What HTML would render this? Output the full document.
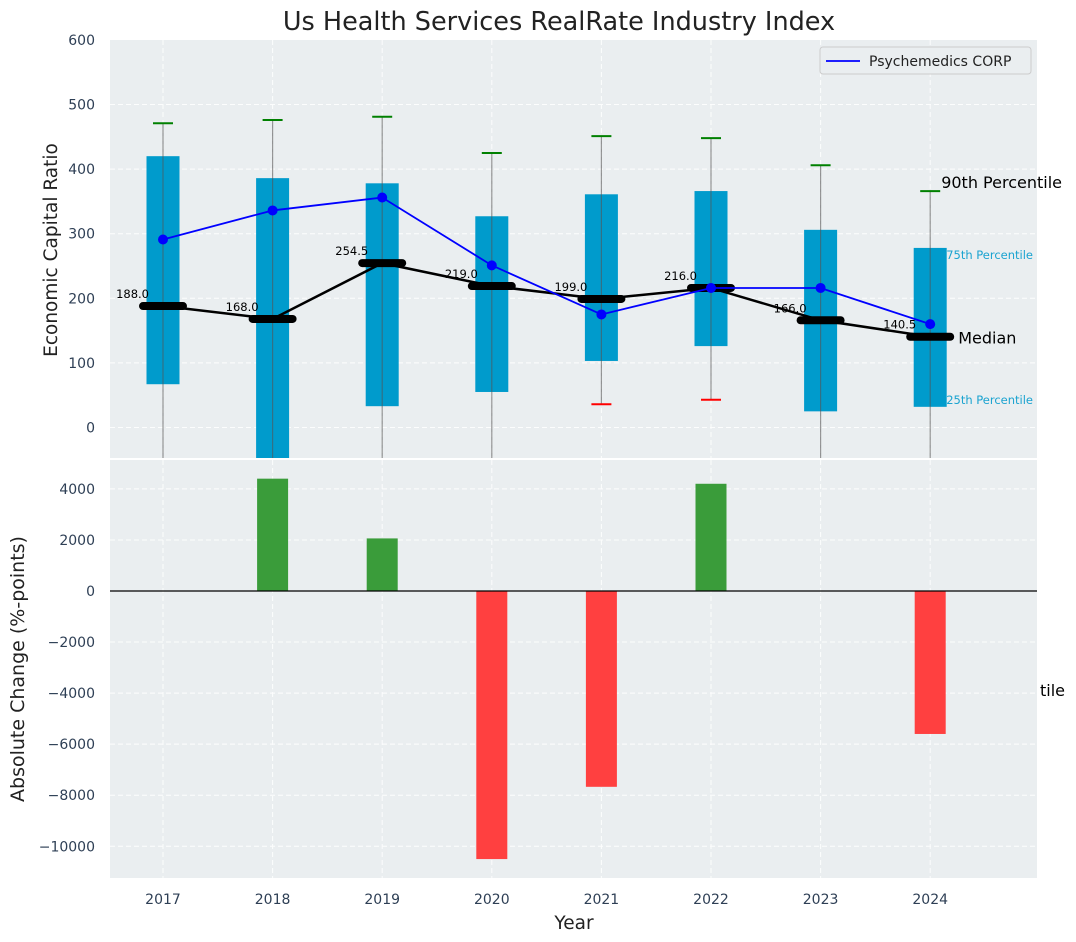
<!DOCTYPE html>
<html><head><meta charset="utf-8"><style>
body{margin:0;background:#fff;}
svg{display:block;font-family:"DejaVu Sans","Liberation Sans",sans-serif;}
</style></head><body>
<svg id="chart" width="1076" height="942"></svg>
<script>
const years=[2017,2018,2019,2020,2021,2022,2023,2024];
const p90=[471,476,481,425,451,448,406,366];
const p75=[420,386,378,327,361,366,306,278];
const medians=[188,168,254.5,219,199,216,166,140.5];
const p25=[67,-60,33,55,103,126,25,32];
const p10=[-120,-120,-120,-120,36,43,-120,-120];
const company=[291,336,356,251,175,216,216,160];
const changes=[0,4400,2060,-10500,-7670,4200,0,-5600];
const topTicks=[0,100,200,300,400,500,600];
const botTicks=[-10000,-8000,-6000,-4000,-2000,0,2000,4000];

const NS="http://www.w3.org/2000/svg";
const svg=document.getElementById('chart');
function el(tag,attrs,parent){const e=document.createElementNS(NS,tag);for(const k in attrs)e.setAttribute(k,attrs[k]);(parent||svg).appendChild(e);return e;}
const L=110,R=1037;
const xs=v=>163+(v-2017)*109.6;
const yT=v=>427.5-v*0.646;
const yB=v=>591-v*0.02553;
const TT=40,TB=458,BT=460,BB=878;

let bg=el('rect',{x:L,y:TT,width:R-L,height:TB-TT,fill:'#eaeef0'});

let bg2=el('rect',{x:L,y:BT,width:R-L,height:BB-BT,fill:'#eaeef0'});


const grid=el('g',{stroke:'#fff','stroke-dasharray':'5,3','stroke-width':1,opacity:0.9});

topTicks.forEach(t=>{if(yT(t)>TT+1)el('line',{x1:L,x2:R,y1:yT(t),y2:yT(t)},grid);});
botTicks.forEach(t=>el('line',{x1:L,x2:R,y1:yB(t),y2:yB(t)},grid));
years.forEach(yr=>{el('line',{x1:xs(yr),x2:xs(yr),y1:TT,y2:TB},grid);el('line',{x1:xs(yr),x2:xs(yr),y1:BT,y2:BB},grid);});

const tl=el('g',{fill:'#2e3f55','font-size':14});

topTicks.forEach(t=>{const e=el('text',{x:95,y:yT(t)+5,'text-anchor':'end'},tl);e.textContent=t;});
botTicks.forEach(t=>{const e=el('text',{x:95,y:yB(t)+5,'text-anchor':'end'},tl);e.textContent=t<0?'\u2212'+(-t):t;});
years.forEach(yr=>{const e=el('text',{x:xs(yr),y:904,'text-anchor':'middle'},tl);e.textContent=yr;});

const defs=el('defs',{});
const cp=el('clipPath',{id:'ct'},defs);el('rect',{x:L,y:TT,width:R-L,height:TB-TT},cp);
const cb=el('clipPath',{id:'cb'},defs);el('rect',{x:L,y:BT,width:R-L,height:BB-BT},cb);
const topPanel=el('g',{'clip-path':'url(#ct)'});


years.forEach((yr,i)=>{
  const b=el('rect',{x:xs(yr)-16.5,y:yT(p75[i]),width:33,height:yT(p25[i])-yT(p75[i]),fill:'#009bcc'},topPanel);
  
  const w=el('line',{x1:xs(yr),x2:xs(yr),y1:yT(p90[i]),y2:yT(p10[i]),stroke:'#555',opacity:0.6,'stroke-width':1.2},topPanel);
  
  const c=el('line',{x1:xs(yr)-10,x2:xs(yr)+10,y1:yT(p90[i]),y2:yT(p90[i]),stroke:'green','stroke-width':2},topPanel);
  
  if(p10[i]>-47){const c2=el('line',{x1:xs(yr)-10,x2:xs(yr)+10,y1:yT(p10[i]),y2:yT(p10[i]),stroke:'red','stroke-width':2},topPanel);
  }
});
const mline=el('polyline',{points:years.map((yr,i)=>xs(yr)+','+yT(medians[i])).join(' '),fill:'none',stroke:'#000','stroke-width':2.5},topPanel);

years.forEach((yr,i)=>{
  const m=el('line',{x1:xs(yr)-20,x2:xs(yr)+20,y1:yT(medians[i]),y2:yT(medians[i]),stroke:'#000','stroke-width':8,'stroke-linecap':'round'},topPanel);
  
  const tx=el('text',{x:xs(yr)-14,y:yT(medians[i])-8,'text-anchor':'end','font-size':11.5,fill:'#000'},topPanel);
  
  tx.textContent=medians[i].toFixed(1);
});
const cl=el('polyline',{points:years.map((yr,i)=>xs(yr)+','+yT(company[i])).join(' '),fill:'none',stroke:'#0000ff','stroke-width':1.8},topPanel);

years.forEach((yr,i)=>{const d=el('circle',{cx:xs(yr),cy:yT(company[i]),r:5,fill:'#0000ff'},topPanel);
});

const li=years.length-1,lx=xs(years[li]);
let a=el('text',{x:lx+11,y:yT(p90[li])-3,'font-size':16,fill:'#000'});a.textContent='90th Percentile';

a=el('text',{x:lx+16,y:yT(p75[li])+11,'font-size':11.5,fill:'#1aa3d0'});a.textContent='75th Percentile';

a=el('text',{x:lx+16,y:yT(p25[li])-3,'font-size':11.5,fill:'#1aa3d0'});a.textContent='25th Percentile';

a=el('text',{x:lx+28,y:yT(medians[li])+7,'font-size':16,fill:'#000'});a.textContent='Median';

a=el('text',{x:1040,y:696,'font-size':16,fill:'#000'});a.textContent='tile';


const lg=el('g',{});
el('rect',{x:820,y:47,width:211,height:27,rx:3,fill:'#eaeef0',stroke:'#ccc'},lg);
el('line',{x1:826,x2:860,y1:61,y2:61,stroke:'#0000ff','stroke-width':1.8},lg);
let lt=el('text',{x:869,y:66,'font-size':14,fill:'#222'},lg);lt.textContent='Psychemedics CORP';

const bot=el('g',{'clip-path':'url(#cb)'});

years.forEach((yr,i)=>{const v=changes[i];const y0=yB(0),y1=yB(v);
  const r=el('rect',{x:xs(yr)-15.5,y:Math.min(y0,y1),width:31,height:Math.abs(y1-y0),fill:v>=0?'#3a9c3a':'#ff4040'},bot);
  });
const zl=el('line',{x1:L,x2:R,y1:yB(0),y2:yB(0),stroke:'#000','stroke-width':1.2});


let tt=el('text',{x:559,y:30,'text-anchor':'middle','font-size':25.5,fill:'#222'});tt.textContent='Us Health Services RealRate Industry Index';

tt=el('text',{x:0,y:0,'text-anchor':'middle','font-size':18.5,fill:'#222',transform:'translate(57,250) rotate(-90)'});tt.textContent='Economic Capital Ratio';

tt=el('text',{x:0,y:0,'text-anchor':'middle','font-size':19,fill:'#222',transform:'translate(24,669) rotate(-90)'});tt.textContent='Absolute Change (%-points)';

tt=el('text',{x:574,y:929,'text-anchor':'middle','font-size':18.5,fill:'#222'});tt.textContent='Year';

</script>
</body></html>
